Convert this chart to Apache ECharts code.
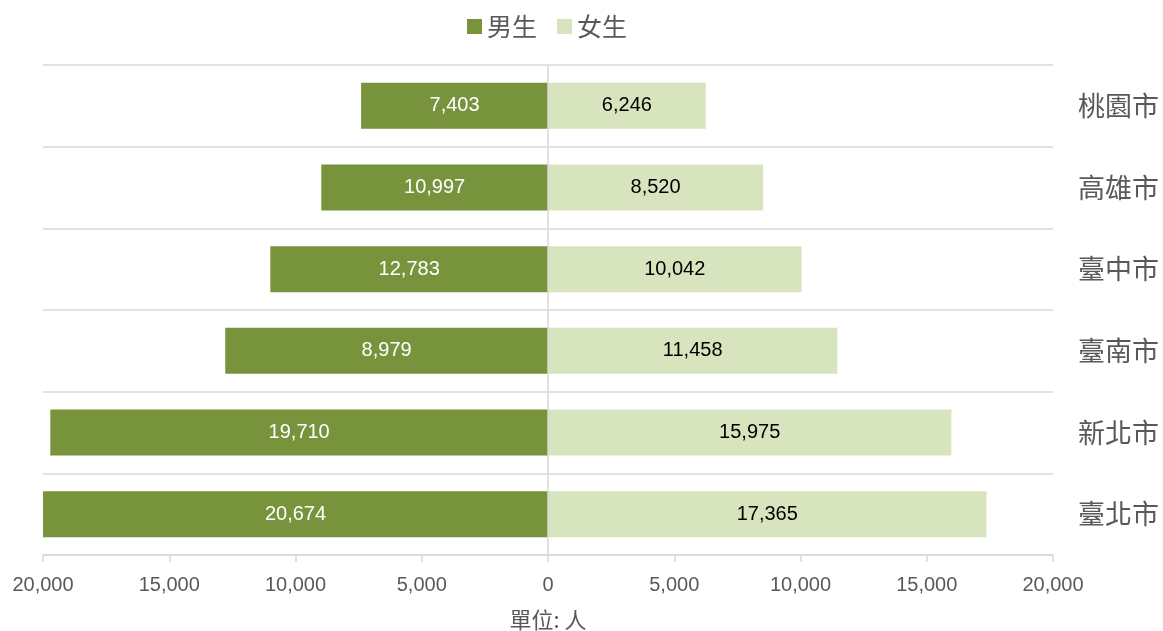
<!DOCTYPE html>
<html><head><meta charset="utf-8">
<script src="https://cdn.jsdelivr.net/npm/echarts@6/dist/echarts.min.js"></script>
<style>html,body{margin:0;padding:0;background:#fff}#c{width:1163px;height:631px}</style>
</head><body><div id="c"></div>
<script>
const categories = ['桃園市','高雄市','臺中市','臺南市','新北市','臺北市'];
const maleValues = [7403, 8979, 10997, 12783, 19710, 20674];
const maleLabels = ['7,403','10,997','12,783','8,979','19,710','20,674'];
const femaleValues = [6246, 8520, 10042, 11458, 15975, 17365];
const xTicks = [-20000, -15000, -10000, -5000, 0, 5000, 10000, 15000, 20000];

const cjk = '"Noto Sans CJK TC","Noto Sans CJK SC",sans-serif';
const num = '"Liberation Sans",Arial,sans-serif';
const fmt = v => Math.abs(v).toLocaleString('en-US');

const chart = echarts.init(document.getElementById('c'), null, {renderer:'canvas'});
chart.setOption({
  animation:false,
  legend:{
    top:9, left:462, itemWidth:15, itemHeight:15, itemGap:20,
    icon:'rect',
    textStyle:{fontFamily:cjk, fontSize:25, color:'#595959'},
    data:['男生','女生']
  },
  grid:{left:43, right:110, top:65, bottom:76, containLabel:false, outerBoundsMode:'none'},
  xAxis:{
    type:'value', min:xTicks[0], max:xTicks[xTicks.length-1], interval:5000,
    axisLine:{show:true, lineStyle:{color:'#D9D9D9', width:1.5}},
    axisTick:{show:true, length:7, lineStyle:{color:'#D9D9D9', width:1.5}},
    splitLine:{show:false},
    axisLabel:{formatter:fmt, fontFamily:num, fontSize:20, color:'#595959', margin:20},
    name:'單位: 人', nameLocation:'middle', nameGap:54,
    nameTextStyle:{fontFamily:cjk, fontSize:22, color:'#595959'}
  },
  yAxis:{
    type:'category', data:categories, inverse:true, position:'right',
    axisLine:{show:false}, axisTick:{show:false},
    splitLine:{show:true, lineStyle:{color:'#D9D9D9', width:1.5}},
    axisLabel:{fontFamily:cjk, fontSize:27, color:'#595959', margin:25}
  },
  series:[
    {
      name:'男生', type:'bar', stack:'s', barWidth:46,
      data:maleValues.map(v=>-v),
      itemStyle:{color:'#77933C'},
      label:{show:true, position:'inside', color:'#fff', fontFamily:num, fontSize:20,
        formatter:p=>maleLabels[p.dataIndex]}
    },
    {
      name:'女生', type:'bar', stack:'s', barWidth:46,
      data:femaleValues,
      itemStyle:{color:'#D7E4BD'},
      label:{show:true, position:'inside', color:'#000', fontFamily:num, fontSize:20,
        formatter:p=>fmt(p.value)},
      markLine:{silent:true, symbol:'none', label:{show:false},
        lineStyle:{color:'#D9D9D9', width:1.5, type:'solid'},
        data:[{xAxis:0}]}
    }
  ]
});
</script></body></html>
